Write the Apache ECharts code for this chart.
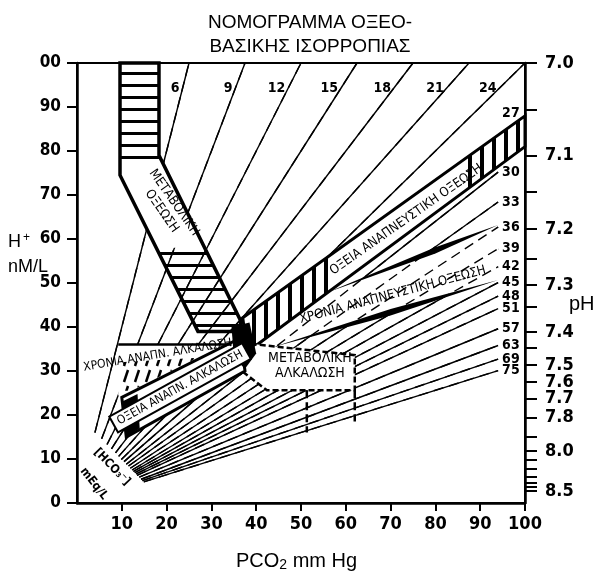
<!DOCTYPE html>
<html>
<head>
<meta charset="utf-8">
<script src="https://cdn.jsdelivr.net/npm/echarts@6.0.0/dist/echarts.min.js"></script>
<style>
  html, body { margin: 0; padding: 0; background: #fff; }
  #chart { width: 597px; height: 572px; }
</style>
</head>
<body>
<div id="chart"></div>
<script>
// iso-bicarbonate lines (PCO2 mm Hg, H+ nM/L)
const hco3 = [6, 9, 12, 15, 18, 21, 24, 27, 30, 33, 36, 39, 42, 45, 48, 51, 57, 63, 69, 75]
const startPco2 = [4.0, 5.5, 6.7, 7.7, 8.6, 9.3, 9.9, 10.5, 11.0, 11.5, 11.9, 12.3, 12.6, 12.9, 13.2, 13.4, 13.9, 14.3, 14.6, 14.9]
const startH = [16.0, 14.6, 13.3, 12.3, 11.4, 10.6, 9.9, 9.4, 8.8, 8.4, 7.9, 7.5, 7.2, 6.9, 6.6, 6.3, 5.9, 5.4, 5.1, 4.8]
const endPco2 = [25, 37.5, 50, 62.5, 75, 87.5, 100, 94, 94, 94, 94, 94, 94, 94, 94, 94, 94, 94, 94, 94]
const endH = [100, 100, 100, 100, 100, 100, 100, 83.5, 75.2, 68.4, 62.7, 57.8, 53.7, 50.1, 47, 44.2, 39.6, 35.8, 32.7, 30.1]

// x ticks and right pH scale (pH positions given in H+ units)
const xTicks = [10, 20, 30, 40, 50, 60, 70, 80, 90, 100]
const pHLabelH = [100, 79, 62.3, 49.5, 38.9, 31.4, 27.5, 23.7, 19.4, 11.8, 2.7]
const pHLabels = ['7.0', '7.1', '7.2', '7.3', '7.4', '7.5', '7.6', '7.7', '7.8', '8.0', '8.5']
const pHTickH = [100, 89.3, 79, 70.7, 62.3, 55.5, 49.5, 44.5, 38.9, 35.2, 31.4, 27.5, 23.7, 19.4, 15, 11.8, 9.8, 7.7, 5.9, 4.5, 3.6, 2.7]

// zones
const metAcidBand = [[9.6, 100], [18.3, 100], [18.3, 79], [36.5, 41.5], [36.5, 39], [27, 39], [9.6, 74.5]]
const metAcidWhite = [[9.6, 100], [18.3, 100], [18.3, 79], [28.5, 58], [17.7, 58], [9.6, 74.5]]
const metAcidTopHatch = [[9.6, 100], [18.3, 100], [18.3, 76.5], [9.6, 76.5]]
const metAcidLowHatch = [[17.7, 58], [28.5, 58], [36.5, 41.5], [36.5, 39], [27, 39]]
const acuteAcidBand = [[37, 42.1], [100, 88], [100, 81], [38, 34.3]]
const acuteAcidHatchL = [[37, 42.1], [57, 56.7], [57, 48.6], [38, 34.3]]
const acuteAcidHatchR = [[86, 77.8], [100, 88], [100, 81], [86, 70.5]]
const chronicAcidZone = [[44, 38.8], [56, 47.9], [94, 62.7], [94, 50.7], [44, 35.5]]
const chronicAcidTop = [[56, 47.9], [80, 58.1], [94, 63.2], [80, 56.7]]
const chronicAcidBottom = [[44, 35.5], [70, 44.1], [94, 50.7], [70, 42.6]]
const metAlkBox = [[36.8, 36.4], [62, 33.6], [62, 25.6], [42.4, 25.6], [36.8, 30]]
const metAlkLeftEdge = [[51.3, 25.6], [51.3, 16]]
const metAlkRightEdge = [[62, 25.6], [62, 18.5]]
const chronicAlkZone = [[9.2, 36], [33.6, 36], [10, 24], [9.2, 24.5]]
const chronicAlkTop = [[9.2, 36], [34.5, 36]]
const chronicAlkTufts = [[9.6, 32], [27, 33], [12, 25.5], [9.6, 25.5]]
const acuteAlkBand = [[10, 24], [36.5, 37.5], [37.5, 30], [11, 15]]
const acuteAlkEnd = [[10, 23], [13.5, 24.8], [14, 17], [11, 15]]
const junction = [[34.5, 40], [38.5, 41], [40, 34], [37.5, 30.5], [35, 33]]

const FONT = '"Liberation Sans Narrow", "DejaVu Sans Condensed", "Liberation Sans", sans-serif'

const makeHatch = (vertical, gap, thick) => {
  const c = document.createElement('canvas')
  c.width = gap
  c.height = gap
  const g = c.getContext('2d')
  g.fillStyle = '#000'
  if (vertical) g.fillRect(0, 0, thick, gap)
  else g.fillRect(0, 0, gap, thick)
  return { image: c, repeat: 'repeat' }
}
const makeTufts = () => {
  const c = document.createElement('canvas')
  c.width = 11
  c.height = 16
  const g = c.getContext('2d')
  g.strokeStyle = '#000'
  g.lineWidth = 2.5
  g.beginPath()
  g.moveTo(3, 14)
  g.lineTo(7, 2)
  g.stroke()
  return { image: c, repeat: 'repeat' }
}

const poly = (points, style, z) => ({
  type: 'custom',
  silent: true,
  z: z,
  data: [[0, 0]],
  renderItem: (params, api) => ({
    type: 'polygon',
    shape: { points: points.map((p) => api.coord(p)) },
    style: style
  })
})
const seg = (points, style, z) => ({
  type: 'custom',
  silent: true,
  z: z,
  data: [[0, 0]],
  renderItem: (params, api) => ({
    type: 'polyline',
    shape: { points: points.map((p) => api.coord(p)) },
    style: Object.assign({ fill: null }, style)
  })
})

const isoRows = hco3.map((h, i) => [startPco2[i], startH[i], endPco2[i], endH[i], h])

const isoSeries = (dashed, z) => ({
  type: 'custom',
  silent: true,
  z: z,
  data: isoRows,
  renderItem: (params, api) => {
    const a = api.coord([api.value(0), api.value(1)])
    const b = api.coord([api.value(2), api.value(3)])
    const h = api.value(4)
    const children = [{
      type: 'line',
      shape: { x1: a[0], y1: a[1], x2: b[0], y2: b[1] },
      style: { stroke: '#000', lineWidth: 1.4, lineDash: dashed ? [10, 6] : null }
    }]
    if (!dashed) {
      let tx, ty, align
      if (api.value(3) >= 99.9) {
        ty = b[1] + 25
        const t = (ty - a[1]) / (b[1] - a[1])
        tx = a[0] + t * (b[0] - a[0]) - 3
        align = 'right'
      } else if (h === 27) {
        tx = b[0] + 4
        ty = b[1] - 22
        align = 'left'
      } else {
        tx = b[0] + 4
        ty = b[1]
        align = 'left'
      }
      children.push({
        type: 'text',
        x: tx,
        y: ty,
        style: { text: String(h), font: 'bold 14px ' + FONT, fill: '#000', align: align, verticalAlign: 'middle' }
      })
    }
    return { type: 'group', children: children }
  }
})

// zone captions: [text, PCO2, H, rotation deg, font]
const notes = [
  ['ΜΕΤΑΒΟΛΙΚΗ\nΟΞΕΩΣΗ', 20.3, 67.3, -55, '13px ' + FONT],
  ['ΟΞΕΙΑ ΑΝΑΠΝΕΥΣΤΙΚΗ ΟΞΕΩΣΗ', 73.5, 64.4, 35, '13px ' + FONT],
  ['ΧΡΟΝΙΑ ΑΝΑΠΝΕΥΣΤΙΚΗ ΟΞΕΩΣΗ', 70.5, 47.3, 15, '13px ' + FONT],
  ['ΧΡΟΝΙΑ ΑΝΑΠΝ. ΑΛΚΑΛΩΣΗ', 18, 33.6, 9.5, '12px ' + FONT],
  ['ΜΕΤΑΒΟΛΙΚΗ\nΑΛΚΑΛΩΣΗ', 52, 31.1, 0, '14px ' + FONT],
  ['[HCO₃⁻]', 7.8, 8.2, -46, 'bold 12px ' + FONT],
  ['mEq/L', 3.8, 4.4, -52, 'bold 12px ' + FONT]
]
const boxedNote = ['ΟΞΕΙΑ ΑΝΑΠΝ. ΑΛΚΑΛΩΣΗ', 23, 26.2, 29, '12px ' + FONT]

const noteSeries = {
  type: 'custom',
  silent: true,
  z: 9,
  data: notes.map((n, i) => [n[1], n[2], i]),
  renderItem: (params, api) => {
    const n = notes[params.dataIndex]
    const p = api.coord([n[1], n[2]])
    return {
      type: 'text',
      x: p[0],
      y: p[1],
      rotation: n[3] * Math.PI / 180,
      style: { text: n[0], font: n[4], fill: '#000', align: 'center', verticalAlign: 'middle', lineHeight: 15 }
    }
  }
}
const boxedSeries = {
  type: 'custom',
  silent: true,
  z: 9,
  data: [[boxedNote[1], boxedNote[2]]],
  renderItem: (params, api) => {
    const p = api.coord([boxedNote[1], boxedNote[2]])
    return {
      type: 'text',
      x: p[0],
      y: p[1],
      rotation: boxedNote[3] * Math.PI / 180,
      style: {
        text: boxedNote[0], font: boxedNote[4], fill: '#000', align: 'center', verticalAlign: 'middle',
        backgroundColor: '#fff', borderColor: '#000', borderWidth: 2, padding: [2, 4]
      }
    }
  }
}

const hHatch = makeHatch(false, 12, 3)
const vHatch = makeHatch(true, 12, 4)
const tufts = makeTufts()
const white = { fill: '#fff', stroke: null }

const chart = echarts.init(document.getElementById('chart'))
chart.setOption({
  animation: false,
  backgroundColor: '#fff',
  title: {
    text: 'ΝΟΜΟΓΡΑΜΜΑ ΟΞΕΟ-\nΒΑΣΙΚΗΣ ΙΣΟΡΡΟΠΙΑΣ',
    left: 305,
    top: 6,
    textAlign: 'center',
    textStyle: { fontFamily: '"Liberation Sans", sans-serif', fontWeight: 'normal', fontSize: 19, lineHeight: 24, color: '#000' }
  },
  grid: { left: 77, right: 72, top: 63, bottom: 69, show: true, borderColor: '#000', borderWidth: 2 },
  xAxis: {
    type: 'value',
    min: 0,
    max: 100,
    interval: 10,
    splitLine: { show: false },
    axisLine: { lineStyle: { color: '#000', width: 2.5 } },
    axisTick: { length: 8, customValues: xTicks, lineStyle: { color: '#000', width: 2 } },
    axisLabel: {
      color: '#000', fontFamily: FONT, fontWeight: 'bold', fontSize: 18, margin: 12,
      formatter: (v) => (v === 0 ? '' : String(v))
    }
  },
  yAxis: [
    {
      type: 'value',
      position: 'left',
      min: 0,
      max: 100,
      interval: 10,
      splitLine: { show: false },
      axisLine: { show: true, lineStyle: { color: '#000', width: 2.5 } },
      axisTick: { show: true, length: 10, lineStyle: { color: '#000', width: 2 } },
      axisLabel: {
        color: '#000', fontFamily: FONT, fontWeight: 'bold', fontSize: 17, margin: 16,
        formatter: (v) => (v === 100 ? '00' : String(v))
      }
    },
    {
      type: 'value',
      position: 'right',
      min: 0,
      max: 100,
      splitLine: { show: false },
      axisLine: { show: true, lineStyle: { color: '#000', width: 2.5 } },
      axisTick: { show: true, length: 12, customValues: pHTickH, lineStyle: { color: '#000', width: 2 } },
      axisLabel: {
        color: '#000', fontFamily: FONT, fontWeight: 'bold', fontSize: 18, margin: 20,
        customValues: pHLabelH,
        formatter: (v) => {
          const i = pHLabelH.indexOf(v)
          return i >= 0 ? pHLabels[i] : ''
        }
      }
    }
  ],
  graphic: [
    { type: 'text', left: 8, top: 232, style: { text: '{a|H}{s|+}', rich: { a: { fontSize: 18, fontFamily: '"Liberation Sans", sans-serif' }, s: { fontSize: 12, verticalAlign: 'top', padding: [0, 0, 8, 2] } }, fill: '#000' } },
    { type: 'text', left: 8, top: 258, style: { text: 'nM/L', font: '18px "Liberation Sans", sans-serif', fill: '#000' } },
    { type: 'text', left: 569, top: 294, style: { text: 'pH', font: '20px "Liberation Sans", sans-serif', fill: '#000' } },
    { type: 'text', left: 236, top: 551, style: { text: '{a|PCO}{s|2}{a| mm Hg}', rich: { a: { fontSize: 20, fontFamily: '"Liberation Sans", sans-serif' }, s: { fontSize: 14, verticalAlign: 'bottom', padding: [8, 0, 0, 0] } }, fill: '#000' } }
  ],
  series: [
    isoSeries(false, 2),
    poly(chronicAcidZone, white, 3),
    isoSeries(true, 4),
    poly(metAcidWhite, white, 5),
    poly(metAcidTopHatch, { fill: hHatch }, 6),
    poly(metAcidLowHatch, { fill: hHatch }, 6),
    poly(metAcidBand, { fill: null, stroke: '#000', lineWidth: 3.5 }, 7),
    poly(acuteAcidBand, { fill: '#fff', stroke: '#000', lineWidth: 3 }, 5),
    poly(acuteAcidHatchL, { fill: vHatch }, 6),
    poly(acuteAcidHatchR, { fill: vHatch }, 6),
    poly(chronicAcidTop, { fill: '#000' }, 7),
    poly(chronicAcidBottom, { fill: '#000' }, 7),
    poly(metAlkBox, { fill: '#fff', stroke: '#000', lineWidth: 2.5, lineDash: [6, 3] }, 5),
    seg(metAlkLeftEdge, { stroke: '#000', lineWidth: 2.5, lineDash: [8, 4] }, 7),
    seg(metAlkRightEdge, { stroke: '#000', lineWidth: 2.5, lineDash: [8, 4] }, 7),
    poly(chronicAlkZone, white, 5),
    poly(chronicAlkTufts, { fill: tufts }, 6),
    seg(chronicAlkTop, { stroke: '#000', lineWidth: 2.5 }, 7),
    poly(acuteAlkBand, { fill: '#fff', stroke: '#000', lineWidth: 3 }, 6),
    poly(acuteAlkEnd, { fill: '#000' }, 7),
    poly(junction, { fill: '#000' }, 7),
    noteSeries,
    boxedSeries
  ]
})
window.addEventListener('resize', () => {
  chart.resize()
})
</script>
</body>
</html>
